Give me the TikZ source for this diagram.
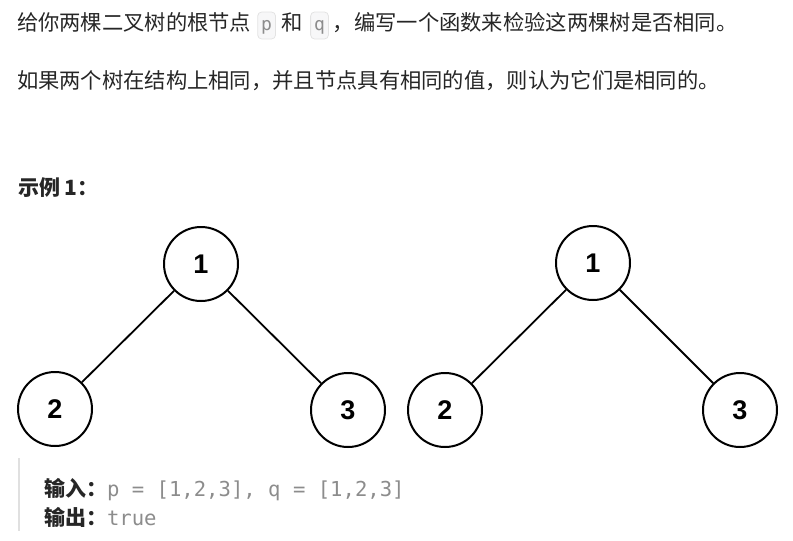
\documentclass[tikz,border=0pt]{standalone}
\usepackage{fontspec}
\setmainfont{Noto Sans CJK SC}
\newfontfamily\numfont{Liberation Sans}
\newfontfamily\codefont{DejaVu Sans Mono}
\definecolor{txt}{HTML}{262626}
\definecolor{codegray}{HTML}{8C8C8C}
\definecolor{boxfill}{HTML}{F7F7F8}
\definecolor{boxline}{HTML}{E3E3E3}
\definecolor{barcol}{HTML}{E0E0E0}
\begin{document}
\begin{tikzpicture}[x=1pt,y=-1pt,
  plain/.style={inner sep=0pt, outer sep=0pt, text=txt, font=\fontsize{21.3}{24}\selectfont, anchor=base west},
  bolder/.style={plain, font=\fontsize{21}{24}\selectfont\bfseries},
  codebox/.style={anchor=base west, inner xsep=3.5pt, inner ysep=4pt, rounded corners=4pt, fill=boxfill, draw=boxline, line width=0.8pt, text=codegray, font=\codefont\fontsize{18}{20}\selectfont, text height=14pt, text depth=5pt},
  codetxt/.style={inner sep=0pt, outer sep=0pt, anchor=base west, text=codegray, font=\codefont\fontsize{20.6}{24}\selectfont},
  treenode/.style={circle, draw=black, line width=2pt, minimum size=74pt, inner sep=0pt, font=\numfont\bfseries\fontsize{27}{30}\selectfont},
  edge/.style={line width=1.8pt, draw=black}
]
\useasboundingbox (0,0) rectangle (793,541);
% line 1
\node[plain] (l1a) at (17,30) {给你两棵二叉树的根节点};
\node[codebox] (pb) at ([xshift=6pt]l1a.base east) {p};
\node[plain] (l1b) at ([xshift=6pt]pb.base east) {和};
\node[codebox] (qb) at ([xshift=7pt]l1b.base east) {q};
\node[plain] (l1c) at ([xshift=4pt]qb.base east) {，编写一个函数来检验这两棵树是否相同。};
% line 2
\node[plain] (l2) at (17,88) {如果两个树在结构上相同，并且节点具有相同的值，则认为它们是相同的。};
% example title
\node[bolder] (ex) at (18,195) {示例 1：};
% tree 1
\node[treenode] (a1) at (201,264) {1};
\node[treenode] (a2) at (55,409) {2};
\node[treenode] (a3) at (348,410) {3};
\draw[edge] (a1) -- (a2);
\draw[edge] (a1) -- (a3);
% tree 2
\node[treenode] (b1) at (593,263) {1};
\node[treenode] (b2) at (445,410) {2};
\node[treenode] (b3) at (740,410) {3};
\draw[edge] (b1) -- (b2);
\draw[edge] (b1) -- (b3);
% quote block
\coordinate (bartop) at (19,458);
\coordinate (barbot) at (19,531);
\draw[barcol, line width=2.5pt] (bartop) -- (barbot);
\node[bolder] (in) at (45,496) {输入：};
\node[codetxt] (inv) at (107,496) {p = [1,2,3], q = [1,2,3]};
\node[bolder] (out) at (45,525) {输出：};
\node[codetxt] (outv) at (107,525) {true};
\end{tikzpicture}
\end{document}
